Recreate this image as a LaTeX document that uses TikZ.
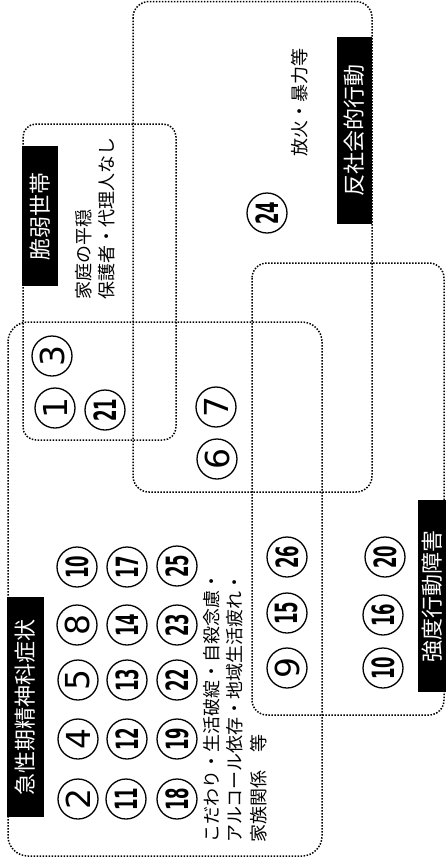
\documentclass[tikz,border=0pt]{standalone}
\usepackage{fontspec}
\setmainfont{Noto Sans CJK JP}
\newfontfamily\digitfont{DejaVu Sans}
\newcommand{\narrow}[1]{\scalebox{0.5}[0.93]{\bfseries #1}}

\begin{document}
\begin{tikzpicture}[
  x=1pt, y=-1pt,
  region/.style={line width=1.5pt, dash pattern=on 1.5pt off 1.5pt, rounded corners=15pt},
  lbl/.style={fill=black, text=white, rotate=90, inner sep=0pt, minimum height=35pt,
              font=\fontsize{22}{22}\selectfont},
  note/.style={rotate=90, anchor=west, align=left, inner sep=0pt,
               font=\fontsize{18}{23.5}\selectfont},
  num/.style={circle, draw, line width=1.3pt, minimum size=40pt, inner sep=0pt, rotate=90,
              font=\digitfont\fontsize{33}{33}\selectfont}
]
  \useasboundingbox (0,0) rectangle (445,868);

  % ---- the four overlapping groups ----
  \draw[region, rounded corners=20pt] (8,322)   rectangle (322,856);  % acute
  \draw[region, rounded corners=13pt] (23,124)  rectangle (176,440);  % fragile
  \draw[region, rounded corners=16pt] (133,1.5) rectangle (372,492);  % antisocial
  \draw[region]                       (252,263) rectangle (444,715);  % severe

  % ---- group labels ----
  \node[lbl, minimum width=187pt]                     (antisocial) at (354.5,130.5) {反社会的行動};
  \node[lbl, minimum width=140pt, minimum height=36pt] (fragile)    at (40,216)     {脆弱世帯};
  \node[lbl, minimum width=220pt, minimum height=37pt] (acute)      at (25.5,707)   {急性期精神科症状};
  \node[lbl, minimum width=192pt, minimum height=28pt] (severe)     at (432,596)    {強度行動障害};

  % ---- notes ----
  \node[note] (fragileTxt)    at (95,300)  {家庭の平穏\\保護者・代理人なし};
  \node[note] (acuteTxt)      at (235,843) {こだわり・生活破綻・自殺念慮・\\アルコール依存・地域生活疲れ・\\家族関係　等};
  \node[note] (antisocialTxt) at (300,157) {放火・暴力等};

  % ---- fragile ∩ acute ----
  \node[num] (n3)  at (52,356)  {3};
  \node[num] (n1)  at (55,408)  {1};
  \node[num] (n21) at (105,410) {\narrow{21}};

  % ---- antisocial ∩ acute ----
  \node[num] (n7)  at (216,407) {7};
  \node[num] (n6)  at (217,459) {6};

  % ---- antisocial only ----
  \node[num] (n24) at (267,213) {\narrow{24}};

  % ---- acute only ----
  \node[num] (n10a) at (77,567)  {\narrow{10}};
  \node[num] (n17)  at (127,567) {\narrow{17}};
  \node[num] (n25)  at (177,566) {\narrow{25}};
  \node[num] (n8)   at (77,625)  {8};
  \node[num] (n14)  at (127,625) {\narrow{14}};
  \node[num] (n23)  at (177,625) {\narrow{23}};
  \node[num] (n5)   at (78,680)  {5};
  \node[num] (n13)  at (127,680) {\narrow{13}};
  \node[num] (n22)  at (177,680) {\narrow{22}};
  \node[num] (n4)   at (78,739)  {4};
  \node[num] (n12)  at (127,739) {\narrow{12}};
  \node[num] (n19)  at (177,739) {\narrow{19}};
  \node[num] (n2)   at (78,799)  {2};
  \node[num] (n11)  at (126,799) {\narrow{11}};
  \node[num] (n18)  at (177,799) {\narrow{18}};

  % ---- severe ∩ acute ----
  \node[num] (n26) at (287,557) {\narrow{26}};
  \node[num] (n15) at (287,613) {\narrow{15}};
  \node[num] (n9)  at (287,668) {9};

  % ---- severe only ----
  \node[num] (n20)  at (385,557) {\narrow{20}};
  \node[num] (n16)  at (383,615) {\narrow{16}};
  \node[num] (n10b) at (383,668) {\narrow{10}};
\end{tikzpicture}
\end{document}
